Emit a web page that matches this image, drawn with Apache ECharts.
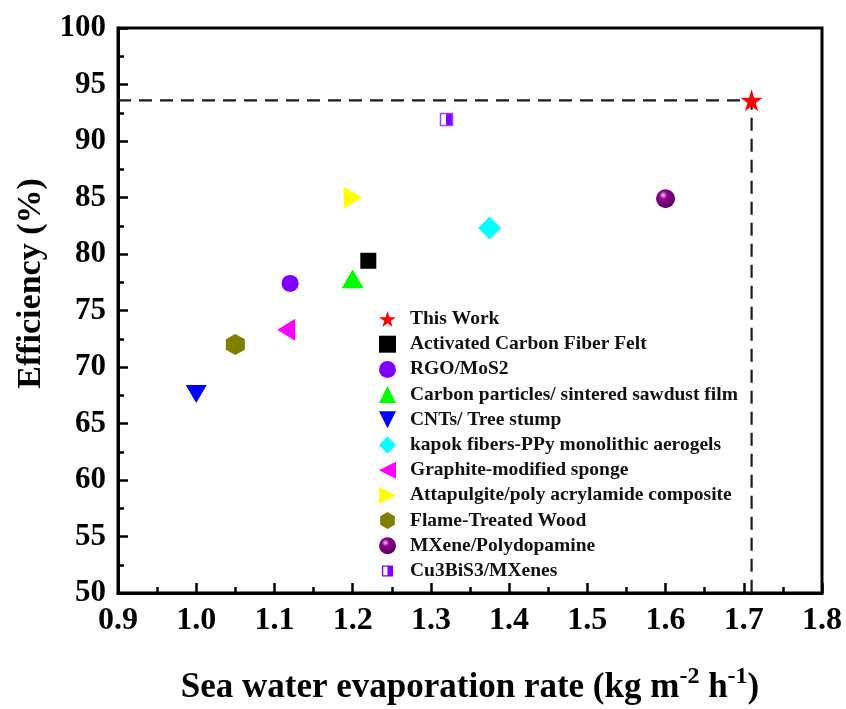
<!DOCTYPE html>
<html>
<head>
<meta charset="utf-8">
<script src="https://cdn.jsdelivr.net/npm/echarts@6/dist/echarts.min.js"></script>
<style>
  html, body { margin: 0; padding: 0; background: #fff; }
  #chart { width: 846px; height: 709px; }
</style>
</head>
<body>
<div id="chart"></div>
<script>
!(function() {
  // data
  var names = [
    "This Work",
    "Activated Carbon Fiber Felt",
    "RGO/MoS2",
    "Carbon particles/ sintered sawdust film",
    "CNTs/ Tree stump",
    "kapok fibers-PPy monolithic aerogels",
    "Graphite-modified sponge",
    "Attapulgite/poly acrylamide composite",
    "Flame-Treated Wood",
    "MXene/Polydopamine",
    "Cu3BiS3/MXenes"
  ];
  var rates = [1.71, 1.22, 1.12, 1.20, 1.00, 1.375, 1.115, 1.20, 1.05, 1.60, 1.32];
  var efficiency = [93.6, 79.4, 77.4, 77.8, 67.6, 82.3, 73.3, 85.0, 72.0, 84.9, 91.9];
  var guideX = [0.9, 1.71, 1.71];
  var guideY = [93.6, 93.6, 50];

  var FONT = "'Liberation Serif', 'Times New Roman', serif";

  var star = "path://M50,0 L61,35 L98,35 L68,57 L79,91 L50,70 L21,91 L32,57 L2,35 L39,35 Z";
  var hexagon = "path://M50,0 L93,25 L93,75 L50,100 L7,75 L7,25 Z";
  var triRight = "path://M0,0 L10,5 L0,10 Z";
  var triLeft = "path://M10,0 L0,5 L10,10 Z";
  var triDown = "path://M0,0 L10,0 L5,10 Z";
  // small half-filled square for the legend (tiny corner specks keep it small in the box)
  var halfSquare = "path://M0,0 L0.5,0 L0,0.5 Z M100,100 L99.5,100 L100,99.5 Z " +
    "M17,17 L83,17 L83,83 L17,83 Z M25,25 L25,75 L50,75 L50,25 Z";

  // marker style for each series (same order as names)
  var marks = [
    { symbol: star, size: 22, color: "#ff0000" },
    { symbol: "rect", size: 16, color: "#000000" },
    { symbol: "circle", size: 17, color: "#8000ff" },
    { symbol: "triangle", size: [22, 19], color: "#00ff00" },
    { symbol: triDown, size: [21, 18], color: "#0000ff" },
    { symbol: "diamond", size: 23, color: "#00ffff" },
    { symbol: triLeft, size: [18, 22], color: "#ff00ff" },
    { symbol: triRight, size: [18, 22], color: "#ffff00" },
    { symbol: hexagon, size: [19, 21], color: "#808000" },
    {
      symbol: "circle", size: 19,
      color: {
        type: "radial", x: 0.38, y: 0.32, r: 0.7,
        colorStops: [
          { offset: 0, color: "#f0c8f0" },
          { offset: 0.3, color: "#8c008c" },
          { offset: 1, color: "#5a005a" }
        ]
      }
    },
    {
      symbol: "rect", size: 12,
      color: {
        type: "linear", x: 0, y: 0, x2: 1, y2: 0,
        colorStops: [
          { offset: 0, color: "#ffffff" },
          { offset: 0.45, color: "#ffffff" },
          { offset: 0.45, color: "#8000ff" },
          { offset: 1, color: "#8000ff" }
        ]
      },
      border: "#a040ff"
    }
  ];

  var series = [];
  series.push({
    name: "guide",
    type: "line",
    data: guideX.map(function(x, i) { return [x, guideY[i]]; }),
    symbol: "none",
    silent: true,
    z: 1,
    lineStyle: { color: "#1a1a1a", width: 2.2, type: [13, 8] }
  });
  for (var i = 0; i < names.length; i++) {
    var m = marks[i];
    series.push({
      name: names[i],
      type: "scatter",
      data: [[rates[i], efficiency[i]]],
      symbol: m.symbol,
      symbolSize: m.size,
      z: 3,
      itemStyle: {
        color: m.color,
        opacity: 1,
        borderColor: m.border || null,
        borderWidth: m.border ? 1.5 : 0
      }
    });
  }

  var legendData = names.map(function(n) {
    if (n === "Cu3BiS3/MXenes") {
      return { name: n, icon: halfSquare, itemStyle: { color: "#8000ff", borderWidth: 0 } };
    }
    return { name: n };
  });

  var chart = echarts.init(document.getElementById("chart"));
  chart.setOption({
    animation: false,
    backgroundColor: "#ffffff",
    grid: {
      left: 118, right: 24, top: 28, bottom: 116,
      outerBoundsMode: "none",
      show: true, borderColor: "#000", borderWidth: 3, backgroundColor: "transparent"
    },
    legend: {
      data: legendData,
      orient: "vertical",
      left: 374,
      top: 304,
      itemWidth: 17,
      itemHeight: 17,
      itemGap: 5.2,
      textStyle: {
        fontFamily: FONT, fontWeight: "bold", fontSize: 19.5, color: "#111",
        padding: [0, 0, 0, 9]
      }
    },
    xAxis: {
      type: "value",
      min: 0.9, max: 1.8, interval: 0.1,
      name: "{a|Sea water evaporation rate (kg m}{s|-2}{a| h}{s|-1}{a|)}",
      nameLocation: "middle",
      nameGap: 72,
      nameTextStyle: {
        rich: {
          a: { fontFamily: FONT, fontWeight: "bold", fontSize: 35, color: "#000", verticalAlign: "bottom", lineHeight: 40 },
          s: { fontFamily: FONT, fontWeight: "bold", fontSize: 24, color: "#000", verticalAlign: "top", lineHeight: 40, padding: [0, 0, 16, 0] }
        }
      },
      splitLine: { show: false },
      axisLine: { onZero: false, lineStyle: { color: "#000", width: 3 } },
      axisTick: { inside: true, length: 10, lineStyle: { color: "#000", width: 2.5 } },
      minorTick: { show: true, splitNumber: 2, length: 6, lineStyle: { color: "#000", width: 2.5 } },
      axisLabel: {
        margin: 12, fontFamily: FONT, fontWeight: "bold", fontSize: 32, color: "#000",
        formatter: function(v) { return v.toFixed(1); }
      }
    },
    yAxis: {
      type: "value",
      min: 50, max: 100, interval: 5,
      name: "Efficiency (%)",
      nameLocation: "middle",
      nameGap: 66,
      nameTextStyle: {
        fontFamily: FONT, fontWeight: "bold", fontSize: 34, color: "#000",
        padding: [0, 0, 0, 54]
      },
      splitLine: { show: false },
      axisLine: { onZero: false, lineStyle: { color: "#000", width: 3 } },
      axisTick: { inside: true, length: 10, lineStyle: { color: "#000", width: 2.5 } },
      minorTick: { show: true, splitNumber: 2, length: 6, lineStyle: { color: "#000", width: 2.5 } },
      axisLabel: { margin: 12, fontFamily: FONT, fontWeight: "bold", fontSize: 31, color: "#000" }
    },
    series: series
  });
})();
</script>
</body>
</html>
